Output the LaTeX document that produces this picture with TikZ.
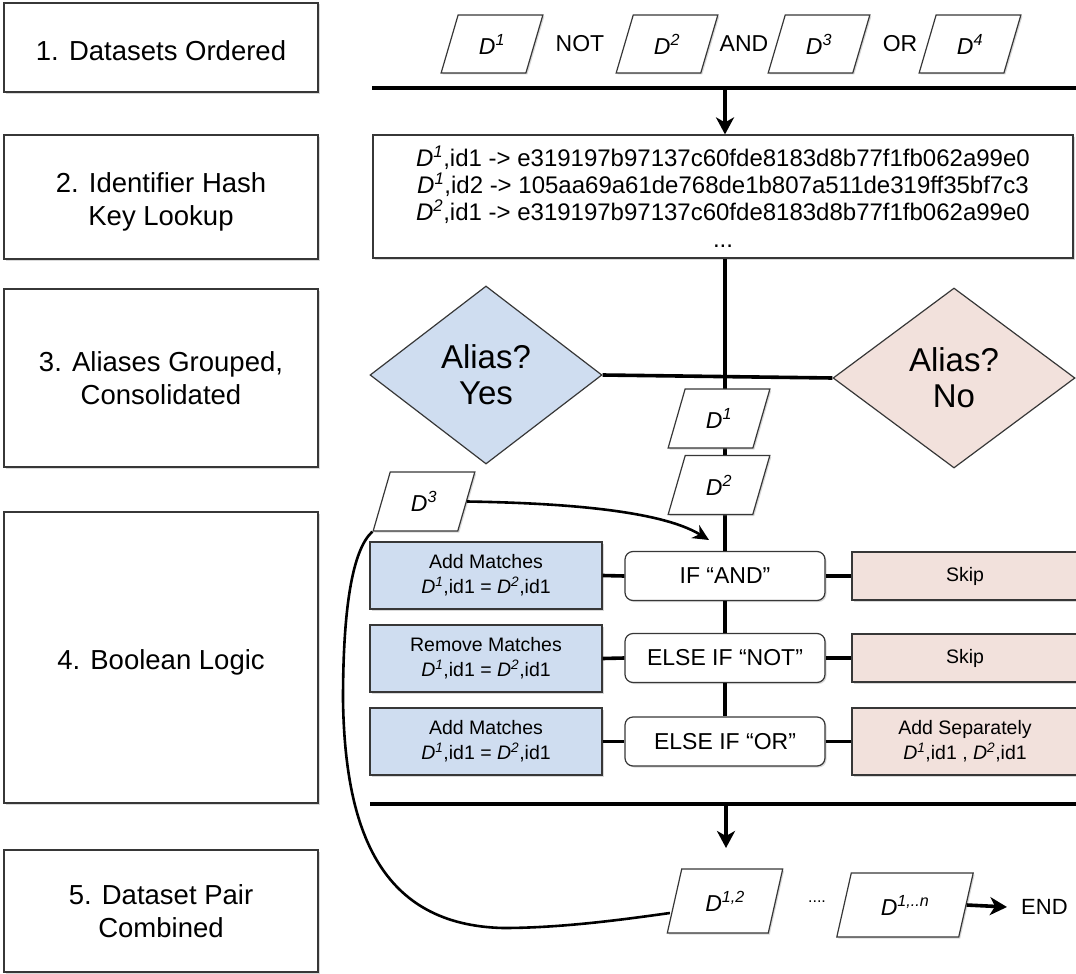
\documentclass[tikz,border=0pt]{standalone}
\usepackage{fontspec}
\setmainfont{Liberation Sans}
\usetikzlibrary{shapes.geometric,arrows.meta,shadows,calc}
\definecolor{blueF}{RGB}{207,221,240}
\definecolor{pinkF}{RGB}{242,225,220}
\definecolor{edgeC}{RGB}{55,55,55}
\newcommand{\Dsup}[1]{\textit{D\textsuperscript{#1}}}
\newcommand{\fsz}[2]{\fontsize{#1}{#2}\selectfont}
\begin{document}
\begin{tikzpicture}[x=1pt,y=-1pt,
  shd/.style={drop shadow={opacity=0.3,shadow xshift=1.5pt,shadow yshift=-1.5pt}},
  stage/.style={rectangle,draw=edgeC,line width=1.2pt,fill=white,shd,align=center,
     minimum width=314pt,inner sep=0pt,font=\fsz{27.5}{33}},
  para/.style={trapezium,trapezium left angle=72,trapezium right angle=108,
     trapezium stretches=true,draw=edgeC,line width=1.2pt,fill=white,shd,
     minimum width=102pt,minimum height=58pt,inner sep=0pt,font=\fsz{23}{26}},
  wordlab/.style={font=\fsz{23}{26},inner sep=0pt},
  dia/.style={diamond,draw=edgeC,line width=1.2pt,align=center,inner sep=0pt,
     font=\fsz{33}{36}},
  sidebox/.style={rectangle,draw=edgeC,line width=1.2pt,shd,align=center,inner sep=0pt,
     font=\fsz{19.5}{25}},
  ifbox/.style={rectangle,rounded corners=8pt,draw=edgeC,line width=1.2pt,fill=white,shd,
     minimum width=200pt,minimum height=49pt,inner sep=0pt,font=\fsz{23}{26}},
  conn/.style={line width=3.6pt,black},
  bar/.style={line width=4.8pt,black},
  arr/.style={line width=3.6pt,black,-{Stealth[length=17pt,width=18pt,inset=5pt]}},
]
\useasboundingbox (0,0) rectangle (1076,974);

% ---- stage boxes
\node[stage,minimum height=89pt,text height=26pt,text depth=0pt]  (s1) at (161,47.5) {1. Datasets Ordered};
\node[stage,minimum height=124pt,text height=63pt,text depth=6pt] (s2) at (161,197) {2. Identifier Hash\\Key Lookup};
\node[stage,minimum height=178pt,text height=59pt,text depth=6pt] (s3) at (161,378) {3. Aliases Grouped,\\Consolidated};
\node[stage,minimum height=291pt,text height=30pt,text depth=6pt] (s4) at (161,657.5) {4. Boolean Logic};
\node[stage,minimum height=122pt] (s5) at (161,911) {5. Dataset Pair\\Combined};

% ---- step 1
\node[para] (p1) at (492,44) {\Dsup{1}};
\node[wordlab] (wnot) at (580,44) {NOT};
\node[para] (p2) at (667,44) {\Dsup{2}};
\node[wordlab] (wand) at (744,44) {AND};
\node[para] (p3) at (819,44) {\Dsup{3}};
\node[wordlab] (wor) at (900,44) {OR};
\node[para] (p4) at (970,44) {\Dsup{4}};

\coordinate (b1l) at (372,88);
\coordinate (b1r) at (1076,88);
\coordinate (b1m) at (725,88);
\draw[bar] (b1l) -- (b1r);

% ---- step 2
\node[rectangle,draw=edgeC,line width=1.2pt,fill=white,shd,minimum width=700pt,
  minimum height=123pt,inner sep=0pt,align=center,font=\fsz{24}{27}] (hash) at (723,196.5)
  {\Dsup{1},id1 -> e319197b97137c60fde8183d8b77f1fb062a99e0\\
   \Dsup{1},id2 -> 105aa69a61de768de1b807a511de319ff35bf7c3\\
   \Dsup{2},id1 -> e319197b97137c60fde8183d8b77f1fb062a99e0\\
   ...};
\draw[arr] (b1m) -- (b1m |- hash.north);

% ---- step 3
\node[dia,fill=blueF,minimum width=232pt,minimum height=178pt] (yes) at (486,375) {Alias?\\Yes};
\node[dia,fill=pinkF,minimum width=242pt,minimum height=180pt] (no) at (954,378) {Alias?\\No};

% ---- step 4 rows
\node[ifbox] (if1) at (725,576) {IF “AND”};
\node[ifbox] (if2) at (725,658) {ELSE IF “NOT”};
\node[ifbox] (if3) at (725,741.5) {ELSE IF “OR”};

\draw[conn] (hash.south -| if1.north) -- (if1.north);
\draw[conn] (yes.east) -- (no.west);
\draw[conn] (if1.south) -- (if2.north);
\draw[conn] (if2.south) -- (if3.north);

\node[para,minimum width=102pt,minimum height=59pt] (d1s) at (719,418.5) {\Dsup{1}};
\node[para,minimum width=102pt,minimum height=59pt] (d2s) at (719,485) {\Dsup{2}};
\node[para,minimum width=102pt,minimum height=59pt] (d3s) at (424,501.5) {\Dsup{3}};

\node[sidebox,fill=blueF,minimum width=232pt,minimum height=67pt] (a1) at (486,575.5)
  {Add Matches\\\Dsup{1},id1 = \Dsup{2},id1};
\node[sidebox,fill=blueF,minimum width=232pt,minimum height=67pt] (a2) at (486,658.5)
  {Remove Matches\\\Dsup{1},id1 = \Dsup{2},id1};
\node[sidebox,fill=blueF,minimum width=232pt,minimum height=67pt] (a3) at (486,741.5)
  {Add Matches\\\Dsup{1},id1 = \Dsup{2},id1};
\node[sidebox,fill=pinkF,minimum width=226pt,minimum height=48pt] (k1) at (965,576) {Skip};
\node[sidebox,fill=pinkF,minimum width=226pt,minimum height=48pt] (k2) at (965,658) {Skip};
\node[sidebox,fill=pinkF,minimum width=226pt,minimum height=67pt] (k3) at (965,741.5)
  {Add Separately\\\Dsup{1},id1 , \Dsup{2},id1};

\draw[conn] (a1.east) -- (if1.west);
\draw[conn] (if1.east) -- (k1.west);
\draw[conn] (a2.east) -- (if2.west);
\draw[conn] (if2.east) -- (k2.west);
\draw[conn] (a3.east) -- (if3.west);
\draw[conn] (if3.east) -- (k3.west);

\coordinate (tip) at (709,540);
\draw[line width=2.6pt,-{Stealth[length=16pt,width=15pt,inset=5pt]}]
  (d3s.east) .. controls (560,503) and (660,510) .. (tip);

% ---- step 5
\coordinate (b2l) at (370,804);
\coordinate (b2r) at (1076,804);
\coordinate (b2m) at (726,804);
\coordinate (b2t) at (726,848);
\draw[bar] (b2l) -- (b2r);
\draw[arr] (b2m) -- (b2t);

\node[para,minimum width=116pt,minimum height=64pt] (d12) at (725,901) {\Dsup{1,2}};
\node[font=\fsz{16}{18},inner sep=0pt] (dots) at (817,902) {....};
\node[para,minimum width=137pt,minimum height=64pt] (d1n) at (905,905) {\Dsup{1,..n}};
\node[font=\fsz{22}{24},inner ysep=0pt,inner xsep=14pt,anchor=west] (endn) at (1007,907) {END};
\draw[arr] (d1n.east) -- (endn.west);

\coordinate (lp) at ($(d12.west)+(-4,12)$);
\draw[line width=2.6pt] (d3s.bottom left corner) .. controls (352,550) and (343,610) .. (343,700)
   .. controls (345,830) and (380,925) .. (503,928)
   .. controls (560,928) and (620,920) .. (lp);
\end{tikzpicture}
\end{document}
